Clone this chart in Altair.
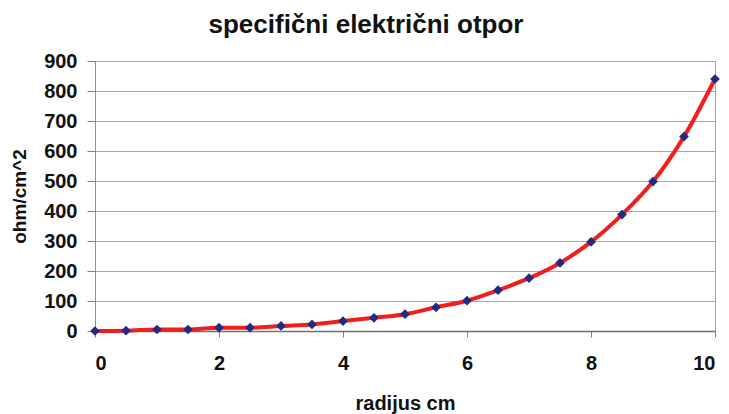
import altair as alt
import pandas as pd

# radius (cm) and specific electrical resistance (ohm/cm^2)
radius = [0, 0.5, 1, 1.5, 2, 2.5, 3, 3.5, 4, 4.5, 5, 5.5, 6, 6.5, 7, 7.5, 8, 8.5, 9, 9.5, 10]
resistance = [0, 1, 5, 5, 11, 11, 17, 22, 33, 44, 56, 79, 101, 136, 176, 227, 297, 388, 498, 648, 840]

df = pd.DataFrame({"radijus": radius, "otpor": resistance})

FONT = "Liberation Sans"

x = alt.X(
    "radijus:Q",
    title="radijus cm",
    scale=alt.Scale(domain=[0, 10], nice=False),
    axis=alt.Axis(
        values=[0, 2, 4, 6, 8, 10],
        grid=False,
        tickSize=6,
        tickColor="#808080",
        domainColor="#707070",
        domainWidth=1.5,
        labelPadding=16,
        titlePadding=20,
        titleFontSize=20,
    ),
)
y = alt.Y(
    "otpor:Q",
    title="ohm/cm^2",
    scale=alt.Scale(domain=[0, 900], nice=False),
    axis=alt.Axis(
        values=list(range(0, 901, 100)),
        grid=True,
        gridColor="#A8A8A8",
        gridWidth=1,
        tickSize=8,
        tickColor="#808080",
        domainColor="#909090",
        labelPadding=10,
        titlePadding=14,
        titleFontSize=19,
    ),
)

base = alt.Chart(df).encode(x=x, y=y)

line = base.mark_line(color="#F01E1E", strokeWidth=4, interpolate="monotone")
points = base.mark_point(shape="diamond", filled=True, size=95, color="#232A80", opacity=1)

chart = (
    (line + points)
    .properties(
        width=620,
        height=270,
        background="white",
        autosize=alt.AutoSizeParams(type="none"),
        padding={"left": 95, "top": 61, "right": 14, "bottom": 83},
        title=alt.TitleParams(
            "specifični električni otpor",
            font=FONT,
            fontSize=26,
            fontWeight="bold",
            color="#111111",
            anchor="middle",
            dx=-39,
            offset=13,
        ),
    )
    .configure_view(stroke="#A8A8A8", strokeWidth=1)
    .configure_axis(
        labelFont=FONT,
        labelFontSize=20,
        labelFontWeight="bold",
        labelColor="#111111",
        titleFont=FONT,
        titleFontWeight="bold",
        titleColor="#111111",
    )
)

chart.save("out.html", embed_options={"renderer": "svg", "actions": False})
